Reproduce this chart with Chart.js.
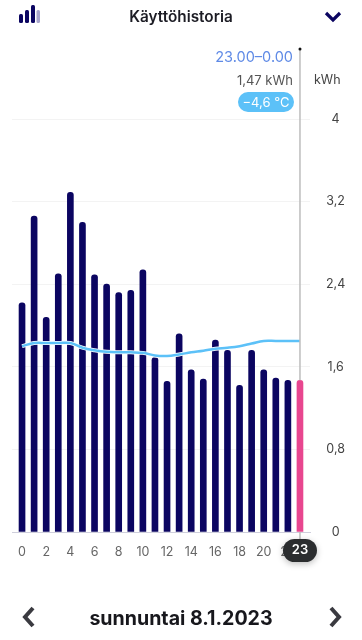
<!DOCTYPE html>
<html lang="fi">
<head>
<meta charset="utf-8">
<title>Käyttöhistoria</title>
<script src="https://cdn.jsdelivr.net/npm/chart.js@4"></script>
<style>
  html, body { margin: 0; padding: 0; background: #fff; }
  body { width: 362px; height: 640px; overflow: hidden; position: relative; font-family: Inter, sans-serif; }
  #wrap { position: absolute; left: 0; top: 0; width: 362px; height: 640px; }
  .abs { position: absolute; white-space: nowrap; }
  #title { left: 0; width: 362px; top: 7px; text-align: center; font-size: 15.3px; line-height: 20px; font-weight: 600; color: #1c1c24; }
  #icon { left: 19px; top: 5px; width: 21px; height: 18px; }
  #chev { left: 324px; top: 11px; }
  #range { right: 69px; top: 47px; font-size: 14.5px; line-height: 20px; color: #5f8ae6; }
  #amount { right: 69px; top: 70px; font-size: 13px; line-height: 20px; color: #555; }
  #temp { left: 238px; top: 92px; width: 56px; height: 20px; line-height: 20px; border-radius: 10px; background: #5cc1f8; color: #fff; font-size: 13px; text-align: center; }
  #unit { left: 314px; top: 71px; font-size: 12.5px; line-height: 18px; color: #444; }
  #day { left: 0; width: 362px; top: 605px; text-align: center; font-size: 19.6px; line-height: 26px; font-weight: 700; color: #17171c; }
  #prev { left: 22px; top: 606px; }
  #next { left: 328px; top: 606px; }
</style>
</head>
<body>
<div id="wrap"><canvas id="usage-chart" width="362" height="640"></canvas></div>

<svg id="icon" class="abs" viewBox="0 0 21 18">
  <rect x="0" y="9" width="4" height="9" rx="1.5" fill="#0b0561"/>
  <rect x="6" y="5" width="4" height="13" rx="1.5" fill="#0b0561"/>
  <rect x="12" y="0" width="4" height="18" rx="1.5" fill="#0b0561"/>
  <rect x="17.5" y="5" width="3.5" height="13" rx="1.5" fill="#a9a6cc"/>
</svg>
<svg id="chev" class="abs" width="18" height="12" viewBox="0 0 18 12">
  <path d="M2 2 L9 9 L16 2" fill="none" stroke="#0b0561" stroke-width="3.2"/>
</svg>
<div id="title" class="abs">Käyttöhistoria</div>
<div id="range" class="abs">23.00–0.00</div>
<div id="amount" class="abs">1,47 kWh</div>
<div id="temp" class="abs">−4,6 °C</div>
<div id="unit" class="abs">kWh</div>
<svg id="prev" class="abs" width="14" height="22" viewBox="0 0 14 22">
  <path d="M11 2 L3 11 L11 20" fill="none" stroke="#3a3a40" stroke-width="4"/>
</svg>
<div id="day" class="abs">sunnuntai 8.1.2023</div>
<svg id="next" class="abs" width="14" height="22" viewBox="0 0 14 22">
  <path d="M3 2 L11 11 L3 20" fill="none" stroke="#3a3a40" stroke-width="4"/>
</svg>

<script>
const hours = [0, 1, 2, 3, 4, 5, 6, 7, 8, 9, 10, 11, 12, 13, 14, 15, 16, 17, 18, 19, 20, 21, 22, 23];
const usage = [2.22, 3.06, 2.08, 2.5, 3.29, 3.0, 2.49, 2.4, 2.32, 2.34, 2.54, 1.69, 1.46, 1.92, 1.57, 1.48, 1.86, 1.76, 1.42, 1.76, 1.57, 1.49, 1.47, 1.47];
const temperature = [1.8, 1.83, 1.83, 1.83, 1.83, 1.785, 1.76, 1.745, 1.74, 1.74, 1.735, 1.71, 1.705, 1.72, 1.74, 1.755, 1.775, 1.785, 1.8, 1.825, 1.85, 1.85, 1.85, 1.85];
const xTicks = [0, 2, 4, 6, 8, 10, 12, 14, 16, 18, 20, 22];
const yTicks = [0, 0.8, 1.6, 2.4, 3.2, 4];
const yTickLabels = ["0", "0,8", "1,6", "2,4", "3,2", "4"];
const selectedHour = 23;

const NAVY = "#0b0561";
const PINK = "#e8468f";
const SKY = "#5cc1f8";

// vertical marker and the dark "23" bubble on the selected hour
const selectedMarker = {
  id: "selectedMarker",
  afterDraw(chart) {
    const { ctx, scales } = chart;
    const x = scales.x.getPixelForValue(selectedHour);
    const bottom = scales.y.getPixelForValue(0);
    ctx.save();
    ctx.strokeStyle = "#bdbdbd";
    ctx.lineWidth = 1.5;
    ctx.beginPath();
    ctx.moveTo(x, 49);
    ctx.lineTo(x, scales.y.getPixelForValue(usage[selectedHour]));
    ctx.moveTo(x, bottom);
    ctx.lineTo(x, bottom + 8);
    ctx.stroke();
    ctx.fillStyle = "#111";
    ctx.beginPath();
    ctx.arc(x, 49, 1.5, 0, Math.PI * 2);
    ctx.fill();
    ctx.shadowColor = "rgba(0,0,0,0.25)";
    ctx.shadowBlur = 6;
    ctx.shadowOffsetY = 2;
    ctx.fillStyle = "#2b2d2f";
    ctx.beginPath();
    ctx.roundRect(x - 17, 539, 34, 23, 11.5);
    ctx.fill();
    ctx.shadowColor = "transparent";
    ctx.fillStyle = "#fff";
    ctx.font = "600 13px Inter, sans-serif";
    ctx.textAlign = "center";
    ctx.textBaseline = "middle";
    ctx.fillText(String(selectedHour), x, 550.5);
    ctx.restore();
  },
};

new Chart(document.getElementById("usage-chart"), {
  type: "bar",
  data: {
    datasets: [
      {
        type: "line",
        data: hours.map((h, i) => ({ x: h, y: temperature[i] })),
        borderColor: SKY,
        borderWidth: 2.5,
        pointRadius: 0,
        tension: 0.4,
        order: 0,
      },
      {
        type: "line",
        data: hours.map((h, i) => ({ x: h, y: temperature[i] })),
        borderColor: "#ffffff",
        borderWidth: 4,
        pointRadius: 0,
        tension: 0.4,
        order: 1,
      },
      {
        data: hours.map((h, i) => ({ x: h, y: usage[i] })),
        backgroundColor: hours.map((h) => (h === selectedHour ? PINK : NAVY)),
        barThickness: 6,
        borderRadius: { topLeft: 3, topRight: 3 },
        borderSkipped: "bottom",
        order: 2,
      },
    ],
  },
  options: {
    responsive: false,
    animation: false,
    layout: { padding: { left: 12, top: 119, right: 0, bottom: 0 } },
    plugins: { legend: { display: false }, tooltip: { enabled: false } },
    scales: {
      x: {
        type: "linear",
        offset: false,
        min: -0.83,
        max: 23.83,
        afterBuildTicks(scale) {
          scale.ticks = xTicks.map((value) => ({ value }));
        },
        afterFit(scale) {
          scale.height = 108;
        },
        grid: { display: false, offset: false },
        border: { display: true, color: "#cfcfdc", width: 1 },
        ticks: {
          autoSkip: false,
          maxRotation: 0,
          padding: 5,
          color: "#666",
          font: { family: "Inter, sans-serif", size: 12.5 },
          callback: (value) => String(value),
        },
      },
      y: {
        position: "right",
        min: 0,
        max: 4,
        afterBuildTicks(scale) {
          scale.ticks = yTicks.map((value) => ({ value }));
        },
        afterFit(scale) {
          scale.width = 52;
        },
        grid: { color: "#f3f3f3", drawTicks: false },
        border: { display: false },
        ticks: {
          autoSkip: false,
          crossAlign: "center",
          padding: 16,
          color: "#444",
          font: { family: "Inter, sans-serif", size: 12.5 },
          callback: (value) => yTickLabels[yTicks.indexOf(value)],
        },
      },
    },
  },
  plugins: [selectedMarker],
});
</script>
</body>
</html>
